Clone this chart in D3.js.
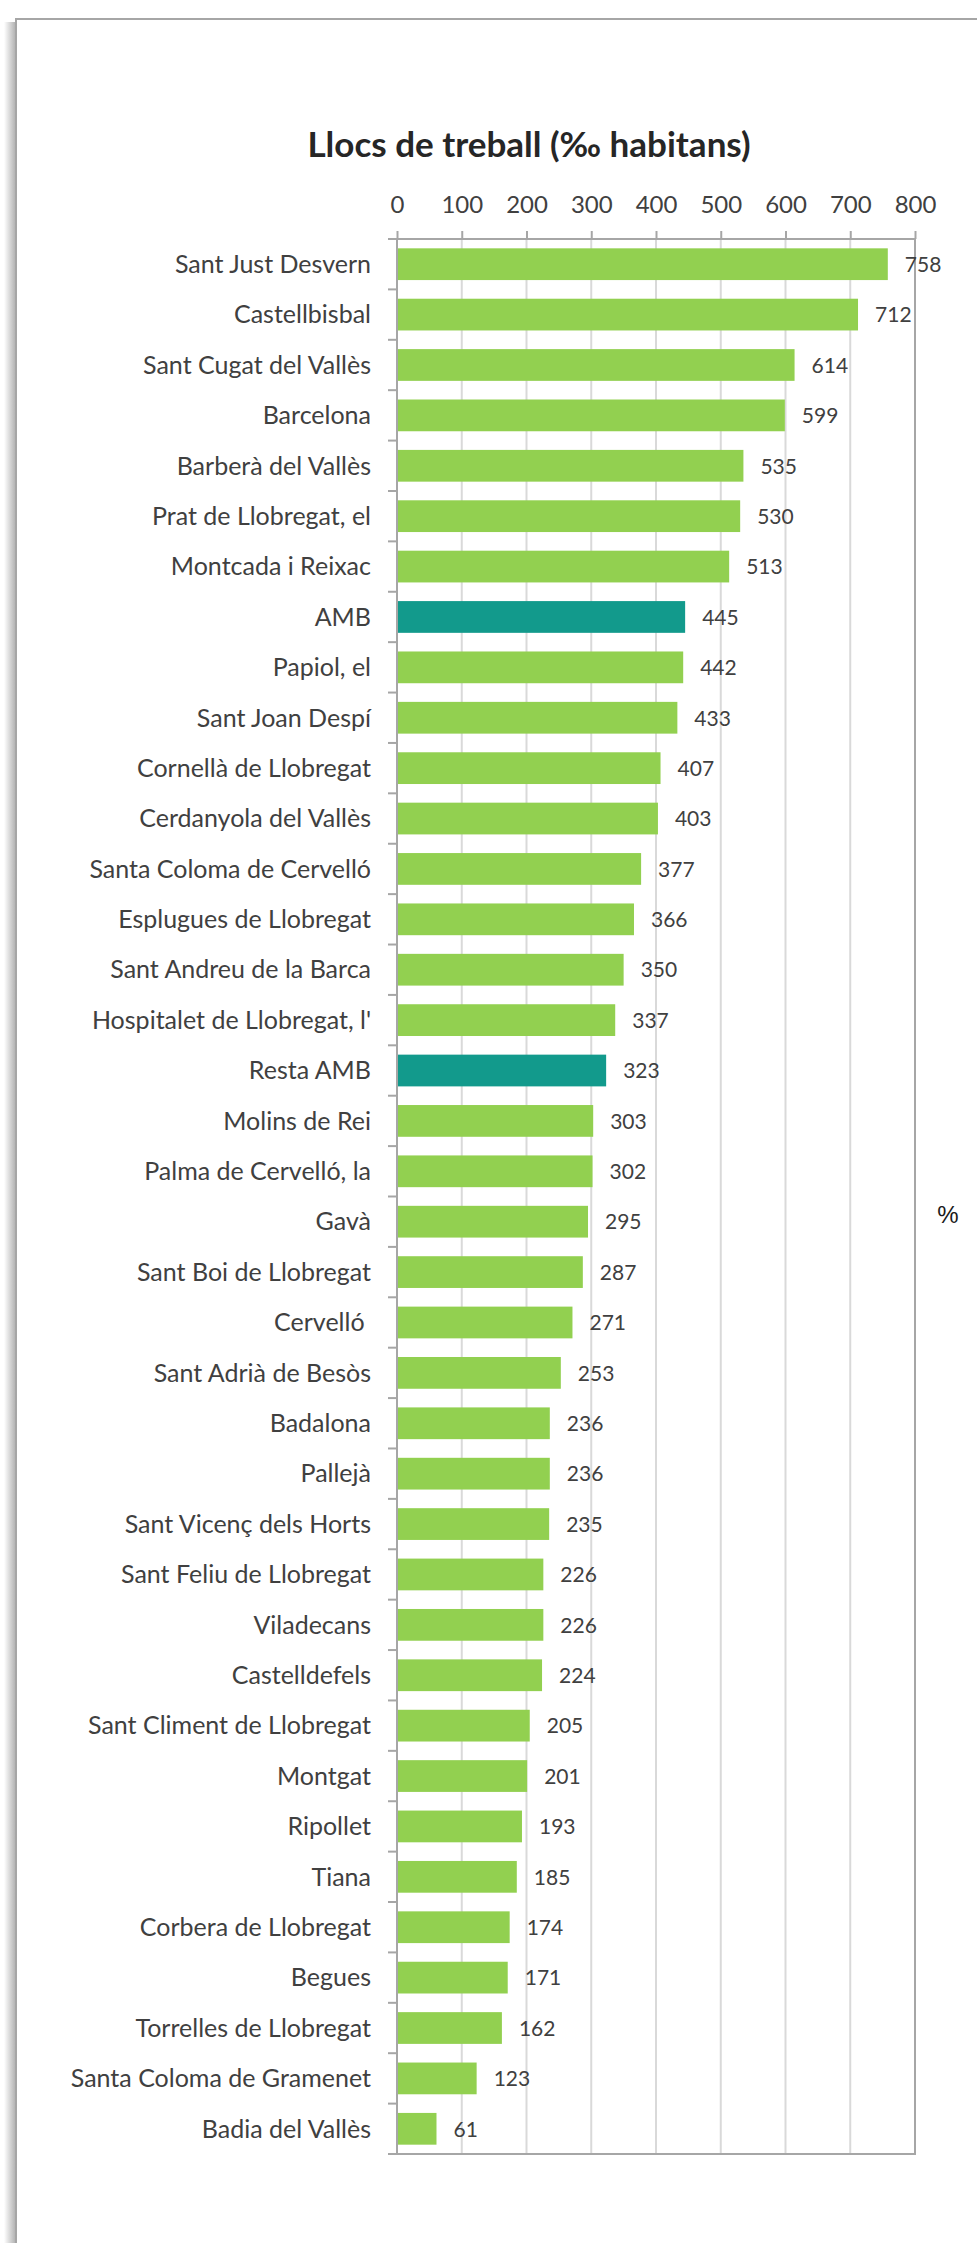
<!DOCTYPE html>
<html>
<head>
<meta charset="utf-8">
<script src="https://cdn.jsdelivr.net/npm/d3@7"></script>
<style>
  body { margin: 0; background: #fff; }
  svg { display: block; }
</style>
</head>
<body>
<svg id="chart" width="977" height="2243"></svg>
<script>
const title = 'Llocs de treball (‰ habitans)';

const municipis = [
  'Sant Just Desvern', 'Castellbisbal', 'Sant Cugat del Vallès', 'Barcelona',
  'Barberà del Vallès', 'Prat de Llobregat, el', 'Montcada i Reixac', 'AMB',
  'Papiol, el', 'Sant Joan Despí', 'Cornellà de Llobregat', 'Cerdanyola del Vallès',
  'Santa Coloma de Cervelló', 'Esplugues de Llobregat', 'Sant Andreu de la Barca',
  "Hospitalet de Llobregat, l'", 'Resta AMB', 'Molins de Rei', 'Palma de Cervelló, la',
  'Gavà', 'Sant Boi de Llobregat', 'Cervelló ', 'Sant Adrià de Besòs', 'Badalona',
  'Pallejà', 'Sant Vicenç dels Horts', 'Sant Feliu de Llobregat', 'Viladecans',
  'Castelldefels', 'Sant Climent de Llobregat', 'Montgat', 'Ripollet', 'Tiana',
  'Corbera de Llobregat', 'Begues', 'Torrelles de Llobregat',
  'Santa Coloma de Gramenet', 'Badia del Vallès'
];

const llocs = [
  758, 712, 614, 599, 535, 530, 513, 445, 442, 433, 407, 403, 377, 366, 350,
  337, 323, 303, 302, 295, 287, 271, 253, 236, 236, 235, 226, 226, 224, 205,
  201, 193, 185, 174, 171, 162, 123, 61
];

const totals = ['AMB', 'Resta AMB'];
const xTicks = [0, 100, 200, 300, 400, 500, 600, 700, 800];
const unitLabel = '%';

const data = municipis.map(function(d, i) { return { name: d, value: llocs[i] }; });

var svg = d3.select('#chart');
var font = 'Lato, "Open Sans", sans-serif';

// frame of the chart area, cut off right and bottom
var defs = svg.append('defs');
var grad = defs.append('linearGradient').attr('id', 'shadow');
grad.append('stop').attr('offset', '0').attr('stop-color', '#fff');
grad.append('stop').attr('offset', '1').attr('stop-color', '#b5b5b5');
svg.append('rect').attr('x', 4).attr('y', 22).attr('width', 11).attr('height', 2221)
    .attr('fill', 'url(#shadow)');
svg.append('path')
    .attr('d', 'M16,2243V19H977')
    .attr('fill', 'none').attr('stroke', '#a6a6a6').attr('stroke-width', 2);

var plotL = 397, plotR = 915, plotT = 239, plotB = 2154;

var x = d3.scaleLinear([0, 800], [plotL, plotR]);
var y = d3.scaleBand(municipis, [plotT, plotB]).paddingInner(0.37).paddingOuter(0.185);
var step = y.step();

// vertical gridlines
svg.append('g')
    .selectAll('line')
    .data(xTicks.slice(1, -1))
    .enter()
    .append('line')
    .attr('x1', x).attr('x2', x)
    .attr('y1', plotT).attr('y2', plotB)
    .attr('stroke', '#d9d9d9').attr('stroke-width', 2);

// bars
svg.append('g')
    .selectAll('rect')
    .data(data)
    .enter()
    .append('rect')
    .attr('x', x(0))
    .attr('y', function(d) { return y(d.name); })
    .attr('width', function(d) { return x(d.value) - x(0); })
    .attr('height', y.bandwidth())
    .attr('fill', function(d) { return totals.indexOf(d.name) >= 0 ? '#129a8c' : '#92d050'; });

// plot border right and bottom
svg.append('path')
    .attr('d', 'M' + (plotL - 9) + ',' + plotB + 'H' + plotR + 'V' + plotT)
    .attr('fill', 'none').attr('stroke', '#a6a6a6').attr('stroke-width', 2);

// top value axis
var xAxis = svg.append('g')
    .attr('transform', 'translate(0,' + plotT + ')')
    .call(d3.axisTop(x).tickValues(xTicks).tickSize(8).tickPadding(18));
xAxis.select('.domain').remove();
xAxis.selectAll('line').attr('stroke', '#a6a6a6').attr('stroke-width', 2);
xAxis.selectAll('text')
    .attr('fill', '#404040')
    .style('font-family', font).style('font-size', '24px');
svg.append('line')
    .attr('x1', plotL - 9).attr('x2', plotR)
    .attr('y1', plotT).attr('y2', plotT)
    .attr('stroke', '#a6a6a6').attr('stroke-width', 2);

// category axis with ticks between bands
var yAxis = svg.append('g');
yAxis.append('line')
    .attr('x1', plotL).attr('x2', plotL)
    .attr('y1', plotT).attr('y2', plotB)
    .attr('stroke', '#a6a6a6').attr('stroke-width', 2);
yAxis.selectAll('line.tick')
    .data(d3.range(municipis.length + 1))
    .enter()
    .append('line')
    .attr('class', 'tick')
    .attr('x1', plotL - 9).attr('x2', plotL)
    .attr('y1', function(i) { return plotT + i * step; })
    .attr('y2', function(i) { return plotT + i * step; })
    .attr('stroke', '#a6a6a6').attr('stroke-width', 2);
yAxis.selectAll('text')
    .data(municipis)
    .enter()
    .append('text')
    .attr('x', plotL - 26)
    .attr('y', function(d) { return y(d) + y.bandwidth() / 2; })
    .attr('dy', '0.35em')
    .attr('text-anchor', 'end')
    .attr('fill', '#404040')
    .style('white-space', 'pre')
    .style('font-family', font).style('font-size', '25px')
    .text(function(d) { return d; });

// value labels
svg.append('g')
    .selectAll('text')
    .data(data)
    .enter()
    .append('text')
    .attr('x', function(d) { return x(d.value) + 17; })
    .attr('y', function(d) { return y(d.name) + y.bandwidth() / 2; })
    .attr('dy', '0.37em')
    .attr('fill', '#404040')
    .style('font-family', font).style('font-size', '21px')
    .text(function(d) { return d.value; });

// title
svg.append('text')
    .attr('x', 529).attr('y', 157)
    .attr('text-anchor', 'middle')
    .attr('fill', '#262626')
    .style('font-family', font).style('font-weight', 'bold').style('font-size', '35px')
    .text(title);

svg.append('text')
    .attr('x', 948).attr('y', 1215)
    .attr('dy', '0.35em')
    .attr('text-anchor', 'middle')
    .attr('fill', '#1a1a1a')
    .style('font-family', '"Liberation Sans", Arial, sans-serif').style('font-size', '24px')
    .text(unitLabel);
</script>
</body>
</html>
